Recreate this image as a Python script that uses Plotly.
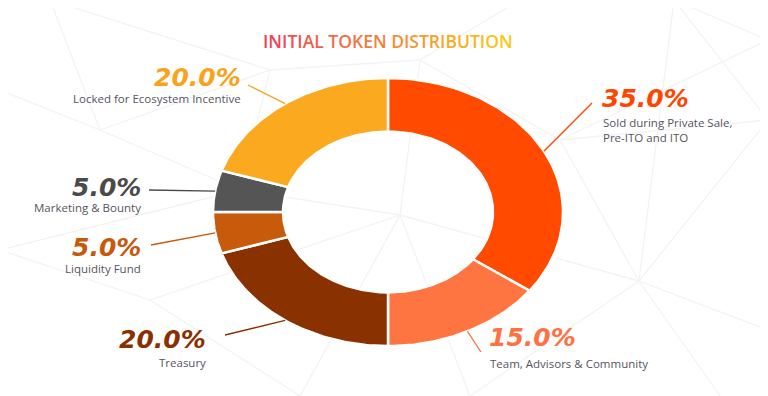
import numpy as np
import plotly.graph_objects as go

# ---- data ----
labels = ["Sold during Private Sale,<br>Pre-ITO and ITO", "Team, Advisors & Community",
          "Treasury", "Liquidity Fund", "Marketing & Bounty", "Locked for Ecosystem Incentive"]
values = [35.0, 15.0, 20.0, 5.0, 5.0, 20.0]
colors = ["#FF4A00", "#FF7542", "#8A3100", "#C85A0C", "#555555", "#FBA91F"]
text_colors = ["#FF4500", "#FF7043", "#8A3000", "#C8580A", "#4A4A4A", "#F9A31B"]
title_text = "INITIAL TOKEN DISTRIBUTION"

# ---- layout geometry (axis units = screen pixels) ----
W, H = 768, 396
OFF = 8  # page body margin offset
cx, cy, rx, ry, hole = 388, 212, 175, 134, 0.6

# label placements: (pct x, pct y, anchor, label y, line end x, line end y)
placements = [
    (600, 98, "left", 130, 592, 103),
    (487, 337, "left", 363, 481, 352),
    (208, 339, "right", 362, 225, 335),
    (143, 247, "right", 268, 151, 245),
    (143, 187, "right", 207, 149, 190),
    (243, 77, "right", 98, 248, 85),
]

# faint background network (decoration)
bg_nodes = {"A": (50, 0), "B": (270, 70), "C": (100, 130), "D": (0, 90), "E": (400, 215),
            "F": (639, 281), "G": (674, 0), "H": (768, 120), "I": (520, 0), "J": (300, 396),
            "K": (720, 396), "L": (150, 300), "M": (0, 250), "N": (768, 330), "O": (470, 396),
            "P": (420, 60), "Q": (240, 190), "R": (768, 40), "S": (560, 140)}
bg_edges = ["AC", "DC", "CB", "BP", "PI", "PE", "BQ", "QE", "CQ", "QM", "ML", "LJ", "LE",
            "EF", "FG", "FH", "FK", "FN", "FO", "EO", "IG", "GH", "PS", "SF", "SH", "SR",
            "GR", "EJ", "AB"]

fig = go.Figure()
for e in bg_edges:
    (x0, y0), (x1, y1) = bg_nodes[e[0]], bg_nodes[e[1]]
    fig.add_shape(type="line", x0=x0, y0=y0, x1=x1, y1=y1, xref="x", yref="y",
                  line=dict(color="#F3F3F3", width=1.3), layer="below")

total = sum(values)
start = 0.0
for i, v in enumerate(values):
    a0 = start / total * 2 * np.pi
    a1 = (start + v) / total * 2 * np.pi
    start += v
    t = np.linspace(a0, a1, 80)
    xo = cx + rx * np.sin(t)
    yo = cy - ry * np.cos(t)
    xi = cx + rx * hole * np.sin(t[::-1])
    yi = cy - ry * hole * np.cos(t[::-1])
    xs = np.concatenate([xo, xi, xo[:1]])
    ys = np.concatenate([yo, yi, yo[:1]])
    fig.add_trace(go.Scatter(x=xs, y=ys, mode="lines", fill="toself",
                             fillcolor=colors[i], line=dict(color="white", width=2.5),
                             hoverinfo="skip", showlegend=False))
    am = (a0 + a1) / 2
    px, py, anc, ly, ex, ey = placements[i]
    sx = cx + rx * np.sin(am)
    sy = cy - ry * np.cos(am)
    fig.add_trace(go.Scatter(x=[sx, ex], y=[sy, ey], mode="lines",
                             line=dict(color=text_colors[i], width=1.3),
                             hoverinfo="skip", showlegend=False))
    fig.add_annotation(x=px, y=py, xref="x", yref="y", xanchor=anc, yanchor="middle",
                       text=f"<b><i>{v:.1f}%</i></b>", showarrow=False,
                       font=dict(family="DejaVu Sans", size=25, color=text_colors[i]))
    fig.add_annotation(x=px + (1 if anc == "left" else 0), y=ly, xref="x", yref="y",
                       xanchor=anc, yanchor="middle", align=anc,
                       text=labels[i], showarrow=False,
                       font=dict(family="Open Sans", size=11.5, color="#555560"))

# gradient title via per-character colours
c0 = np.array([0xF0, 0x40, 0x5A])
c1 = np.array([0xFA, 0xC8, 0x18])
n = len(title_text)
parts = []
for k, ch in enumerate(title_text):
    f = k / (n - 1)
    c = (c0 * (1 - f) + c1 * f).astype(int)
    parts.append(f'<span style="color:#{c[0]:02X}{c[1]:02X}{c[2]:02X}">{ch}</span>')
fig.add_annotation(x=388, y=41, xref="x", yref="y", xanchor="center", yanchor="middle",
                   text="".join(parts), showarrow=False,
                   font=dict(family="Open Sans", size=17.5, weight=600))

fig.update_layout(
    width=W, height=H, margin=dict(l=0, r=0, t=0, b=0),
    paper_bgcolor="white", plot_bgcolor="white",
    xaxis=dict(range=[OFF, W + OFF], visible=False, fixedrange=True),
    yaxis=dict(range=[H + OFF, OFF], visible=False, fixedrange=True),
)
fig.write_html("out.html")
